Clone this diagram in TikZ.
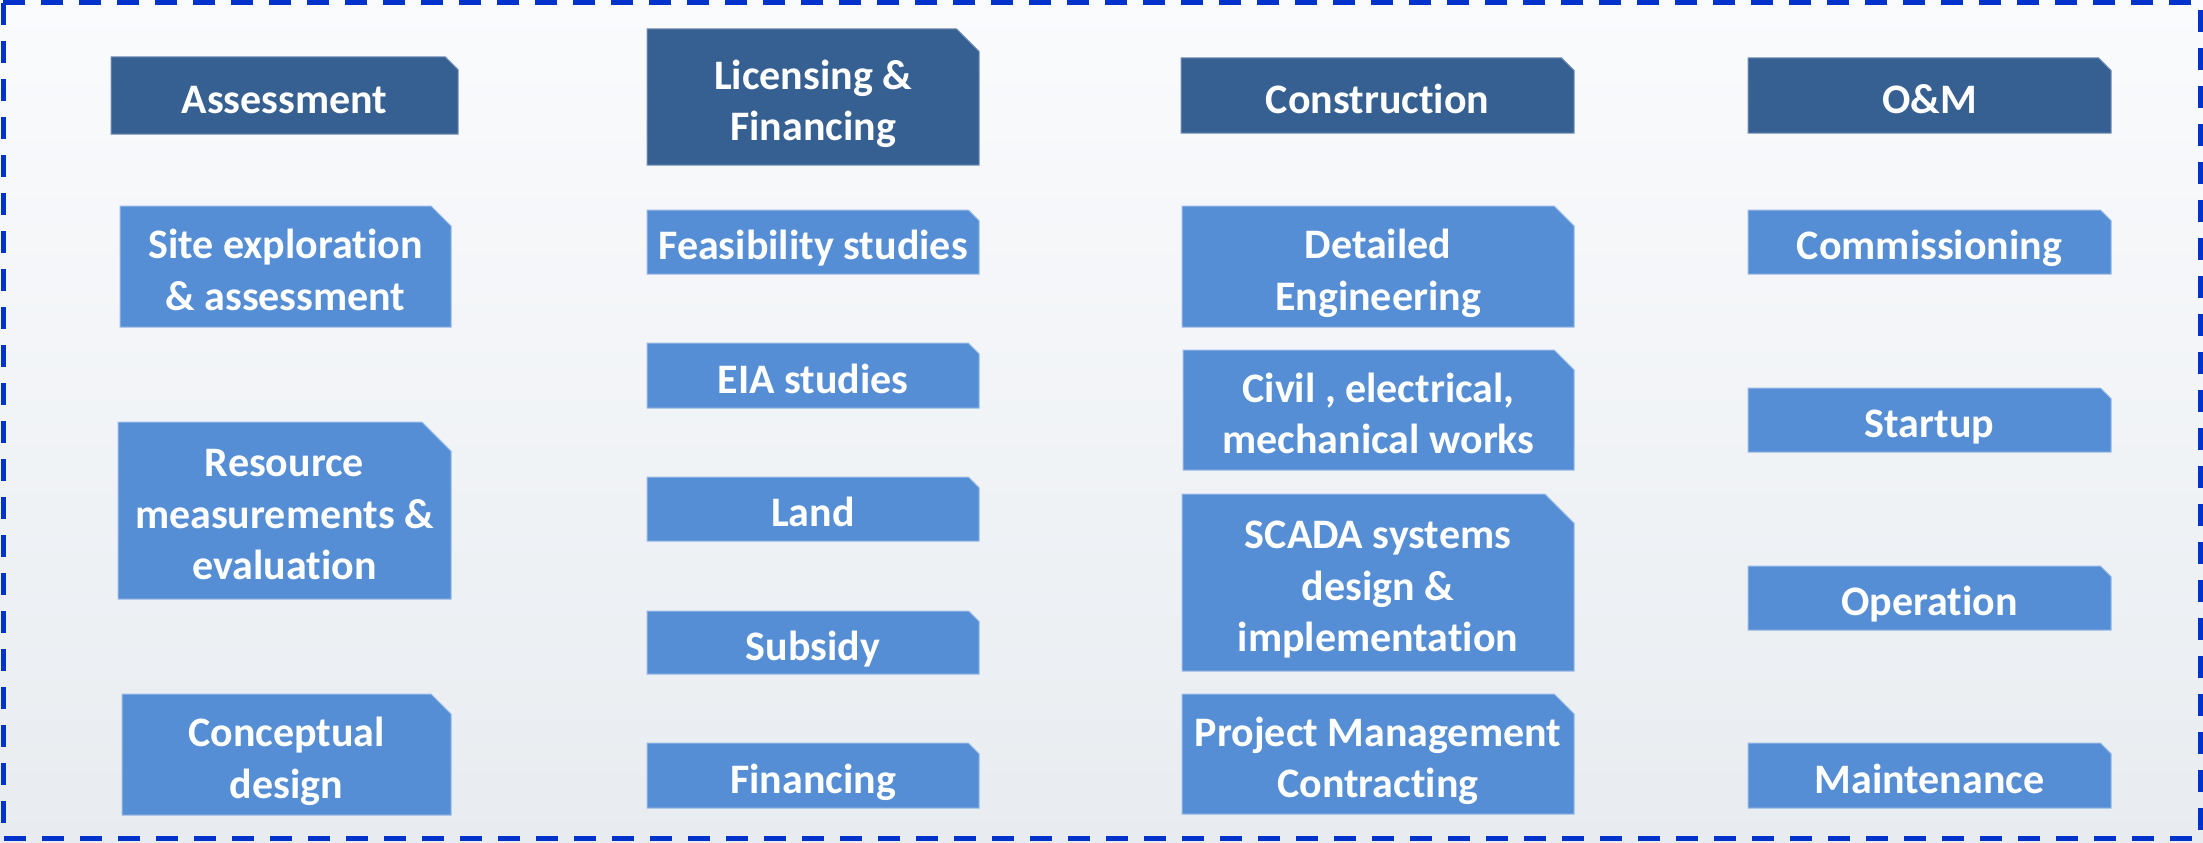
\documentclass[tikz,border=0pt]{standalone}
\usepackage{fontspec}
\setmainfont{Carlito}[Ligatures={NoCommon,NoContextual,NoRequired}]
\definecolor{hdr}{HTML}{376092}
\definecolor{itm}{HTML}{558ED5}
\definecolor{brd}{HTML}{0033CC}
\definecolor{bgtop}{HTML}{FAFBFD}
\definecolor{bgbot}{HTML}{E8ECF0}
\tikzset{
  boxtext/.style={text=white, font=\fontsize{42}{51.5}\selectfont\bfseries, align=center,
    inner sep=0pt, text height=39.9pt, text depth=4.2pt},
  hdrfill/.style={fill=hdr, draw=hdr!70!white, line width=1pt},
  itmfill/.style={fill=itm, draw=itm!60!white, line width=1pt},
  frame/.style={draw=brd, line width=5pt, dash pattern=on 22pt off 16pt},
}
% #1 name, #2-#5 x1 y1 x2 y2, #6 style, #7 number of lines, #8 text
\newcommand\cutbox[8]{%
  \pgfmathsetmacro\cbc{0.165*(#5-#3)}%
  \path[#6] (#2,#3) -- ({#4-\cbc},#3) -- (#4,{#3+\cbc}) -- (#4,#5) -- (#2,#5) -- cycle;
  \node[boxtext] (#1) at ({(#2+#4)/2},{(#3+#5)/2+(#7-1)*25.75}) {#8};
}
\begin{document}
\begin{tikzpicture}[x=1pt,y=-1pt]
\useasboundingbox (0,0) rectangle (2203,843);
\shade[top color=bgtop, bottom color=bgbot] (0,0) rectangle (2203,843);
\path[frame] (3,3) rectangle (2200,838);
% column 1
\cutbox{assess}{111}{57}{458}{134}{hdrfill}{1}{Assessment}
\cutbox{site}{120}{206}{451}{327}{itmfill}{2}{Site exploration\\\& assessment}
\cutbox{resource}{118}{422}{451}{599}{itmfill}{3}{Resource\\measurements \&\\evaluation}
\cutbox{concept}{122}{694}{451}{815}{itmfill}{2}{Conceptual\\design}
% column 2
\cutbox{licfin}{647}{29}{979}{165}{hdrfill}{2}{Licensing \&\\Financing}
\cutbox{feas}{647}{210}{979}{274}{itmfill}{1}{Feasibility studies}
\cutbox{eia}{647}{343}{979}{408}{itmfill}{1}{EIA studies}
\cutbox{land}{647}{477}{979}{541}{itmfill}{1}{Land}
\cutbox{subsidy}{647}{611}{979}{674}{itmfill}{1}{Subsidy}
\cutbox{financing}{647}{743}{979}{808}{itmfill}{1}{Financing}
% column 3
\cutbox{constr}{1181}{58}{1574}{133}{hdrfill}{1}{Construction}
\cutbox{detail}{1182}{206}{1574}{327}{itmfill}{2}{Detailed\\Engineering}
\cutbox{civil}{1183}{350}{1574}{470}{itmfill}{2}{Civil , electrical,\\mechanical works}
\cutbox{scada}{1182}{494}{1574}{671}{itmfill}{3}{SCADA systems\\design \&\\implementation}
\cutbox{pm}{1182}{694}{1574}{814}{itmfill}{2}{Project Management\\Contracting}
% column 4
\cutbox{om}{1748}{58}{2111}{133}{hdrfill}{1}{O\&M}
\cutbox{comm}{1748}{210}{2111}{274}{itmfill}{1}{Commissioning}
\cutbox{startup}{1748}{388}{2111}{452}{itmfill}{1}{Startup}
\cutbox{operation}{1748}{566}{2111}{630}{itmfill}{1}{Operation}
\cutbox{maint}{1748}{743}{2111}{808}{itmfill}{1}{Maintenance}
\end{tikzpicture}
\end{document}
